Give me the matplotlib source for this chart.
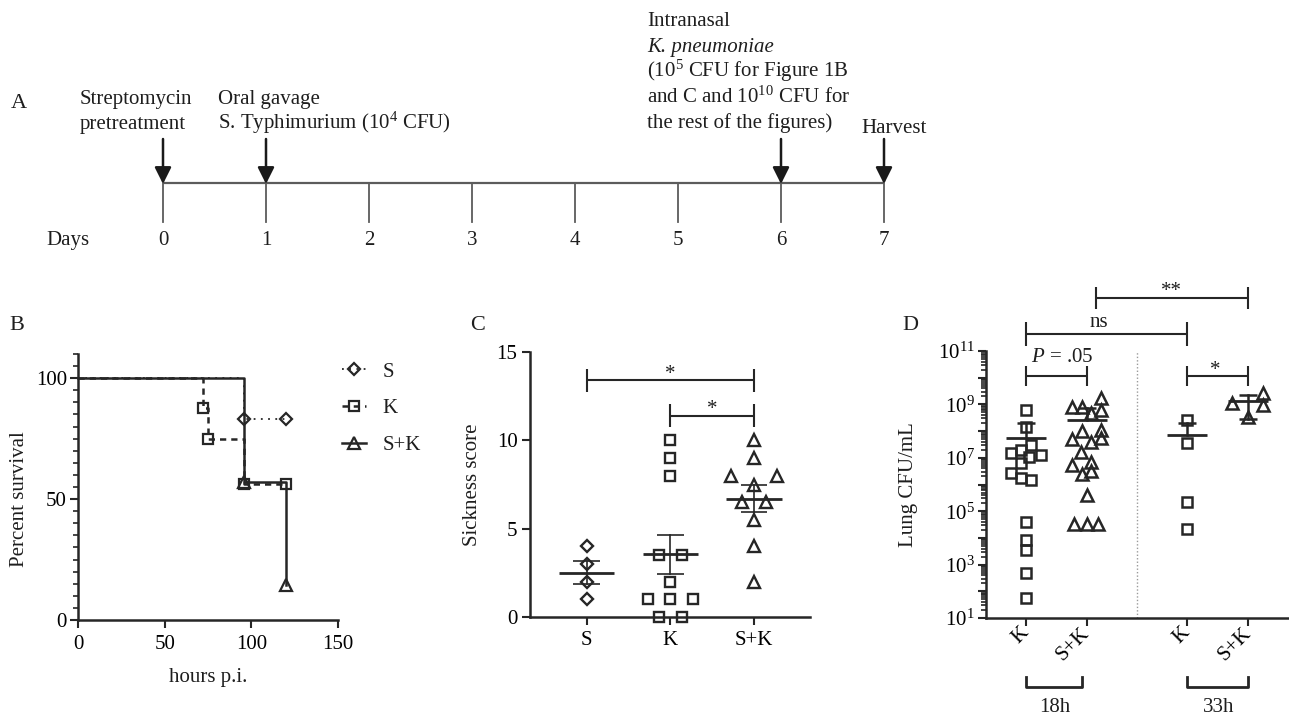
import numpy as np
import matplotlib.pyplot as plt
from matplotlib.ticker import FixedLocator, FuncFormatter, LogLocator, MultipleLocator, NullFormatter

plt.rcParams['font.family'] = ['Liberation Serif', 'DejaVu Serif']
plt.rcParams['mathtext.fontset'] = 'custom'
plt.rcParams['mathtext.rm'] = 'Liberation Serif'
plt.rcParams['mathtext.it'] = 'Liberation Serif:italic'
plt.rcParams['font.size'] = 15
plt.rcParams['text.color'] = '#1e1e1e'

INK = '#262626'

# ---- A: timeline
days = [0, 1, 2, 3, 4, 5, 6, 7]
arrow_days = [0, 1, 6, 7]

# ---- B: survival (Kaplan-Meier steps)
b_labels = ['S', 'K', 'S+K']
s_hours = [0, 96, 120]
s_surv = [100, 83.3, 83.3]
k_hours = [0, 72, 75, 96, 120]
k_surv = [100, 87.5, 75, 56.25, 56.25]
sk_hours = [0, 96, 120]
sk_surv = [100, 57.1, 14.3]

# ---- C: sickness score
c_groups = ['S', 'K', 'S+K']
c_s = [4, 3, 2, 1]
c_k = [10, 9, 8, 3.5, 3.5, 2, 1, 1, 1, 0, 0]
c_sk = [10, 9, 8, 8, 7.5, 6.5, 6.5, 5.5, 4, 2]
# sideways spread of the dots (category units)
c_s_dx = [0, 0, 0, 0]
c_k_dx = [0, 0, 0, -0.14, 0.14, 0, -0.27, 0, 0.27, -0.14, 0.14]
c_sk_dx = [0, 0, -0.27, 0.27, 0, -0.14, 0.14, 0, 0, 0]

# ---- D: lung CFU/mL
d_ticklabels = ['K', 'S+K', 'K', 'S+K']
d_times = ['18h', '33h']
d_k18 = [6.2e8, 1.4e8, 3.0e7, 2.0e7, 1.5e7, 1.25e7, 1.1e7, 6.3e6, 2.7e6,
         1.7e6, 1.5e6, 4.0e4, 8.3e3, 3.5e3, 4.7e2, 55]
d_sk18 = [1.8e9, 8.1e8, 8.1e8, 6.2e8, 4.7e8, 1.1e8, 1.0e8, 5.4e7, 5.0e7, 4.0e7,
          1.7e7, 7.1e6, 5.4e6, 3.2e6, 2.5e6, 4.0e5, 3.2e4, 3.2e4, 3.2e4]
d_k33 = [2.6e8, 3.5e7, 2.3e5, 2.1e4]
d_sk33 = [1.15e9, 2.7e9, 9.5e8, 3.5e8]
d_k18_dx = [0, 0, 0.08, -0.08, -0.25, 0.25, 0.05, -0.08, -0.25, -0.08, 0.08, 0, 0, 0, 0, 0]
d_sk18_dx = [0.23, -0.25, -0.08, 0.23, 0.07, 0.23, -0.08, 0.23, -0.25, 0.07,
             -0.1, 0.07, -0.25, 0.07, -0.08, 0, -0.22, 0, 0.18]
d_k33_dx = [0, 0, 0, 0]
d_sk33_dx = [-0.26, 0.25, 0.25, 0]
d_pos = [0, 1, 2.64, 3.64]

W, H = 1289, 719
fig = plt.figure(figsize=(W / 100, H / 100), dpi=100)


def px_axes(left, top, right, bottom):
    return fig.add_axes([left / W, 1 - bottom / H, (right - left) / W, (bottom - top) / H])


def style_axes(ax):
    for s in ['top', 'right']:
        ax.spines[s].set_visible(False)
    for s in ['left', 'bottom']:
        ax.spines[s].set_linewidth(1.8)
        ax.spines[s].set_color(INK)
    ax.tick_params(which='major', direction='out', length=6, width=1.5, color=INK, labelsize=15)
    ax.tick_params(which='minor', direction='out', length=3.5, width=1.2, color=INK)


# ================= A =================
axA = px_axes(0, 0, W, 260)
x0, step = 163, 103
axA.set_xlim(-x0 / step, (W - x0) / step)
axA.set_ylim(260, 0)
axA.axis('off')


def dpx(px):
    return (px - x0) / step


axA.plot([days[0], days[-1]], [183, 183], color='#5c5c5c', lw=1.6, solid_capstyle='butt')
for d in days:
    axA.plot([d, d], [183, 222], color='#5c5c5c', lw=1.3)
    axA.text(d, 245, str(d), ha='center', va='baseline')
axA.text(dpx(46), 245, 'Days', ha='left', va='baseline')
for d in arrow_days:
    axA.annotate('', xy=(d, 184), xytext=(d, 139),
                 arrowprops=dict(arrowstyle='-|>,head_length=1.0,head_width=0.5',
                                 color='#1a1a1a', lw=1.8, shrinkA=0, shrinkB=0,
                                 mutation_scale=10))
axA.text(dpx(11), 108, 'A', ha='left', va='baseline', fontsize=16)
axA.text(dpx(80), 104, 'Streptomycin', ha='left', va='baseline')
axA.text(dpx(80), 129, 'pretreatment', ha='left', va='baseline')
axA.text(dpx(218), 104, 'Oral gavage', ha='left', va='baseline')
axA.text(dpx(218), 129, r'S. Typhimurium (10$^4$ CFU)', ha='left', va='baseline')
axA.text(dpx(647), 26, 'Intranasal', ha='left', va='baseline')
axA.text(dpx(647), 52, 'K. pneumoniae', ha='left', va='baseline', fontstyle='italic')
axA.text(dpx(647), 77, r'(10$^5$ CFU for Figure 1B', ha='left', va='baseline')
axA.text(dpx(647), 103, r'and C and 10$^{10}$ CFU for', ha='left', va='baseline')
axA.text(dpx(647), 128, 'the rest of the figures)', ha='left', va='baseline')
axA.text(dpx(861), 133, 'Harvest', ha='left', va='baseline')

# ================= B =================
axB = px_axes(78, 354, 338, 620)
style_axes(axB)
lS, = axB.plot(s_hours, s_surv, drawstyle='steps-post', color=INK, lw=1.3,
               ls=(0, (1, 3)), marker='D', ms=6, mfc='none', mec=INK, mew=1.6,
               markevery=slice(1, None), clip_on=False)
lK, = axB.plot(k_hours, k_surv, drawstyle='steps-post', color=INK, lw=1.8,
               ls=(0, (2.5, 2)), marker='s', ms=7.5, mfc='none', mec=INK, mew=1.6,
               markevery=slice(1, None), clip_on=False)
lSK, = axB.plot(sk_hours, sk_surv, drawstyle='steps-post', color=INK, lw=1.8,
                marker='^', ms=8.5, mfc='none', mec=INK, mew=1.6,
                markevery=slice(1, None), clip_on=False)
axB.set_xlim(0, 150)
axB.set_ylim(0, 110)
axB.set_xticks([0, 50, 100, 150])
axB.set_yticks([0, 50, 100])
axB.yaxis.set_minor_locator(MultipleLocator(5))
axB.tick_params(axis='x', pad=5)
axB.tick_params(axis='y', pad=2)
axB.text(0.5, -0.218, 'hours p.i.', transform=axB.transAxes, ha='center', va='center')
axB.text(-0.225, 50 / 110, 'Percent survival', transform=axB.transAxes,
         ha='center', va='center', rotation=90)
axB.legend([lS, lK, lSK], b_labels, loc='upper left', frameon=False,
           bbox_to_anchor=(342 / W, 1 - 362 / H), bbox_transform=fig.transFigure,
           borderpad=0, borderaxespad=0, handlelength=1.15, handletextpad=0.8,
           labelspacing=0.82, numpoints=1, fontsize=15)
fig.text(9 / W, 1 - 330 / H, 'B', ha='left', va='baseline', fontsize=16)


def mean_err(ax, x, vals, kind, half_mean, half_cap, mean_lw, err_lw, bottom=None):
    vals = np.asarray(vals, dtype=float)
    m = vals.mean()
    sd = vals.std(ddof=1)
    e = sd / np.sqrt(len(vals)) if kind == 'sem' else sd
    hi, lo = m + e, m - e
    ax.plot([x - half_mean, x + half_mean], [m, m], color=INK, lw=mean_lw, zorder=4,
            solid_capstyle='butt')
    lo_ok = lo > 0 if bottom is not None else True
    ax.plot([x, x], [lo if lo_ok else m, hi], color=INK, lw=err_lw, zorder=4)
    ax.plot([x - half_cap, x + half_cap], [hi, hi], color=INK, lw=err_lw, zorder=4,
            solid_capstyle='butt')
    if lo_ok:
        ax.plot([x - half_cap, x + half_cap], [lo, lo], color=INK, lw=err_lw, zorder=4,
                solid_capstyle='butt')


def bracket(ax, x1, x2, y, tick, transform=None, lw=1.5):
    tr = transform if transform is not None else ax.transData
    ax.plot([x1, x2], [y, y], color=INK, lw=lw, transform=tr, clip_on=False,
            solid_capstyle='butt')
    for xx in (x1, x2):
        ax.plot([xx, xx], [y - tick, y + tick], color=INK, lw=lw, transform=tr,
                clip_on=False, solid_capstyle='butt')


# ================= C =================
axC = px_axes(530, 352, 810, 617)
style_axes(axC)
c_sets = [(c_s, c_s_dx, 'D', 6), (c_k, c_k_dx, 's', 7.5), (c_sk, c_sk_dx, '^', 8.5)]
for i, (vals, dx, mk, ms) in enumerate(c_sets):
    axC.plot(i + np.asarray(dx), vals, ls='none', marker=mk, ms=ms, mfc='none',
             mec=INK, mew=1.7, clip_on=False, zorder=3)
    mean_err(axC, i, vals, 'sem', 0.33, 0.16, 2.0, 1.2)
axC.set_xlim(-0.68, 2.67)
axC.set_ylim(0, 15)
axC.set_yticks([0, 5, 10, 15])
axC.set_xticks([0, 1, 2], c_groups)
axC.tick_params(axis='x', pad=4)
axC.tick_params(axis='y', pad=3)
bracket(axC, 0, 2, 13.4, 0.65)
bracket(axC, 1, 2, 11.4, 0.65)
axC.text(1, 13.45, '*', ha='center', va='baseline')
axC.text(1.5, 11.5, '*', ha='center', va='baseline')
axC.text(-0.207, 0.5, 'Sickness score', transform=axC.transAxes,
         ha='center', va='center', rotation=90)
fig.text(470 / W, 1 - 330 / H, 'C', ha='left', va='baseline', fontsize=16)

# ================= D =================
axD = px_axes(986, 351, 1289, 618)
style_axes(axD)
axD.set_yscale('log')
d_sets = [(d_k18, d_k18_dx, 's', 7.5), (d_sk18, d_sk18_dx, '^', 8.5),
          (d_k33, d_k33_dx, 's', 7.5), (d_sk33, d_sk33_dx, '^', 8.5)]
for p, (vals, dx, mk, ms) in zip(d_pos, d_sets):
    axD.plot(p + np.asarray(dx), vals, ls='none', marker=mk, ms=ms, mfc='none',
             mec=INK, mew=1.8, clip_on=False, zorder=3)
    mean_err(axD, p, vals, 'sd', 0.33, 0.15, 2.0, 1.8, bottom=10)
axD.set_xlim(-0.656, 4.31)
axD.set_ylim(1e1, 1e11)
axD.yaxis.set_major_locator(FixedLocator([10.0 ** n for n in range(1, 12)]))
axD.yaxis.set_major_formatter(FuncFormatter(
    lambda v, _: r'$10^{%d}$' % round(np.log10(v)) if round(np.log10(v)) % 2 == 1 else ''))
axD.yaxis.set_minor_locator(LogLocator(base=10, subs=np.arange(2, 10), numticks=30))
axD.yaxis.set_minor_formatter(NullFormatter())
axD.tick_params(axis='y', which='major', length=6, pad=2)
axD.tick_params(axis='y', which='minor', length=3.5)
axD.set_xticks(d_pos)
axD.set_xticklabels(d_ticklabels, rotation=45, ha='right', va='center',
                    rotation_mode='anchor')
axD.tick_params(axis='x', pad=3)
axD.axvline(1.82, color='#9a9a9a', lw=1, ls=(0, (1, 1.5)))

xt = axD.get_xaxis_transform()
# significance brackets (y in axes fraction)
bracket(axD, 0, 1, 0.906, 0.037, xt)
axD.text(0.6, 0.959, r'$\it{P}$ = .05', transform=xt, ha='center', va='baseline')
bracket(axD, 2.64, 3.64, 0.906, 0.037, xt)
axD.text(3.1, 0.91, '*', transform=xt, ha='center', va='baseline')
bracket(axD, 0, 2.64, 1.064, 0.045, xt)
axD.text(1.2, 1.09, 'ns', transform=xt, ha='center', va='baseline')
bracket(axD, 1.15, 3.64, 1.199, 0.041, xt)
axD.text(2.39, 1.206, '**', transform=xt, ha='center', va='baseline')
# time group brackets below the axis
for (xa, xb), lab, xm in zip([(0, 0.92), (2.64, 3.64)], d_times, [0.47, 3.15]):
    axD.plot([xa, xa, xb, xb], [-0.221, -0.258, -0.258, -0.221], color=INK, lw=2,
             transform=xt, clip_on=False)
    axD.text(xm, -0.352, lab, transform=xt, ha='center', va='baseline')
axD.text(-0.257, 0.5, 'Lung CFU/mL', transform=axD.transAxes,
         ha='center', va='center', rotation=90)
fig.text(902 / W, 1 - 330 / H, 'D', ha='left', va='baseline', fontsize=16)

fig.savefig('out.png', dpi=100)
